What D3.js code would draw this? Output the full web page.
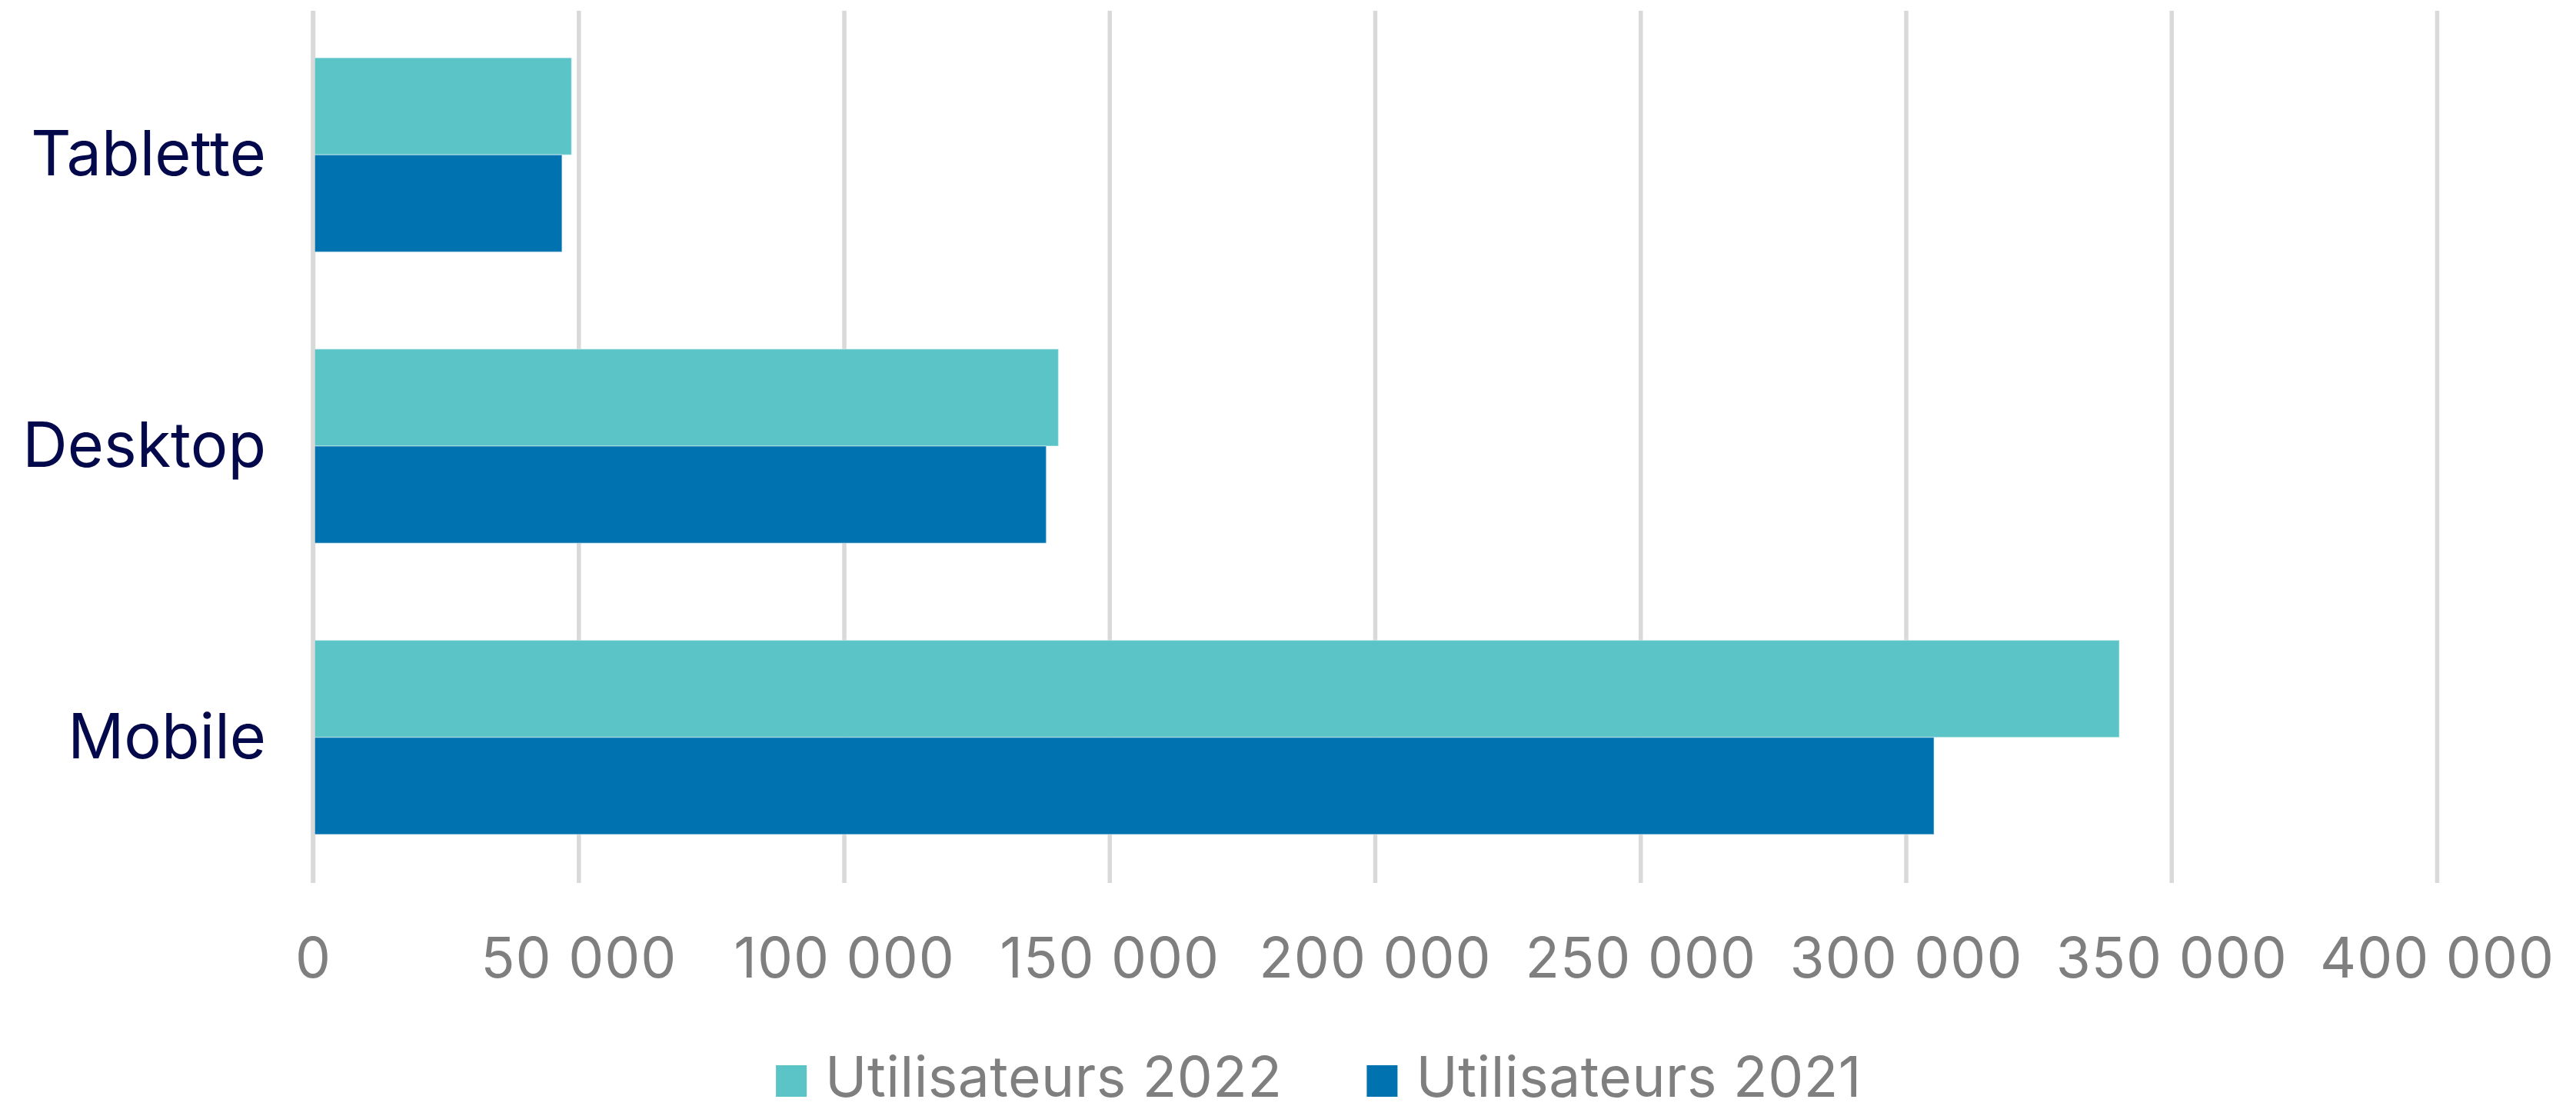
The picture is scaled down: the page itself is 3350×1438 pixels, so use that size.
<!DOCTYPE html>
<html lang="fr">
<head>
<meta charset="utf-8">
<title>Utilisateurs par appareil</title>
<script src="https://cdn.jsdelivr.net/npm/d3@7/dist/d3.min.js"></script>
<style>
  html, body { margin: 0; padding: 0; background: #ffffff; }
  svg { display: block; }
</style>
</head>
<body>
<svg id="chart" width="3350" height="1438"></svg>
<script>
// Device categories, top to bottom
const categories = ["Tablette", "Desktop", "Mobile"];
// Series names (legend order)
const seriesNames = ["Utilisateurs 2022", "Utilisateurs 2021"];
// Users per device
const users2022 = [48700, 140400, 340200];
const users2021 = [46900, 138100, 305300];
// Value axis ticks
const tickValues = [0, 50000, 100000, 150000, 200000, 250000, 300000, 350000, 400000];

const seriesColors = ["#5BC4C7", "#0072AF"];
const seriesValues = [users2022, users2021];

const fontFamily = "Inter, 'Open Sans', sans-serif";
const svg = d3.select("#chart");

const plotTop = 14, plotBottom = 1148;
const x = d3.scaleLinear().domain([0, 400000]).range([407, 3169]);
const y0 = d3.scaleBand().domain(categories).range([12, plotBottom])
  .paddingInner(1 / 3).paddingOuter(1 / 6);
const y1 = d3.scaleBand().domain(seriesNames).range([0, y0.bandwidth()]);

const fr = d3.formatLocale({ decimal: ",", thousands: "\u2009", grouping: [3], currency: ["", " €"] });
const fmt = fr.format(",d");

// Vertical gridlines and tick labels
const axis = d3.axisBottom(x)
  .tickValues(tickValues)
  .tickSize(-(plotBottom - plotTop))
  .tickFormat(d => fmt(d).replace("\u2009", " "));

const gAxis = svg.append("g")
  .attr("transform", `translate(0,${plotBottom})`)
  .call(axis);
gAxis.select(".domain").remove();
gAxis.selectAll(".tick line")
  .attr("stroke", "#D9D9D9")
  .attr("stroke-width", 5.5);
gAxis.selectAll(".tick text")
  .attr("y", 123)
  .attr("dy", 0)
  .attr("fill", "#7F7F7F")
  .style("font-family", fontFamily)
  .style("font-size", "73px")
  .style("letter-spacing", "1px");

// Bars
const rows = categories.map((c, i) => ({
  category: c,
  values: seriesNames.map((s, j) => ({ series: s, value: seriesValues[j][i], color: seriesColors[j] }))
}));

const groups = svg.append("g").selectAll("g")
  .data(rows)
  .join("g")
  .attr("transform", d => `translate(0,${y0(d.category)})`);

groups.selectAll("rect")
  .data(d => d.values)
  .join("rect")
  .attr("x", x(0))
  .attr("y", d => y1(d.series))
  .attr("width", d => x(d.value) - x(0))
  .attr("height", y1.bandwidth())
  .attr("fill", d => d.color)
  .attr("stroke", "#ffffff")
  .attr("stroke-opacity", 0.35)
  .attr("stroke-width", 1.5);

// Zero line drawn above the bars
svg.append("line")
  .attr("x1", x(0)).attr("x2", x(0))
  .attr("y1", plotTop).attr("y2", plotBottom)
  .attr("stroke", "#D9D9D9")
  .attr("stroke-width", 5.5);

// Category labels
svg.append("g").selectAll("text")
  .data(categories)
  .join("text")
  .attr("x", 346)
  .attr("y", d => y0(d) + y0.bandwidth() / 2 + 27)
  .attr("text-anchor", "end")
  .attr("fill", "#03094A")
  .style("font-family", fontFamily)
  .style("font-size", "81px")
  .text(d => d);

// Legend, centred under the chart
const legend = svg.append("g");
const items = legend.selectAll("g")
  .data(seriesNames.map((s, i) => ({ name: s, color: seriesColors[i] })))
  .join("g");
items.append("rect")
  .attr("width", 40).attr("height", 41)
  .attr("y", -41)
  .attr("fill", d => d.color);
items.append("text")
  .attr("x", 64)
  .attr("fill", "#7F7F7F")
  .style("font-family", fontFamily)
  .style("font-size", "73px")
  .style("letter-spacing", "0.5px")
  .text(d => d.name);

let cursor = 0;
items.each(function () {
  const g = d3.select(this);
  g.attr("transform", `translate(${cursor},0)`);
  const w = 64 + g.select("text").node().getComputedTextLength();
  cursor += w + 110;
});
const legendWidth = cursor - 110;
legend.attr("transform", `translate(${1715 - legendWidth / 2},1426)`);
</script>
</body>
</html>
